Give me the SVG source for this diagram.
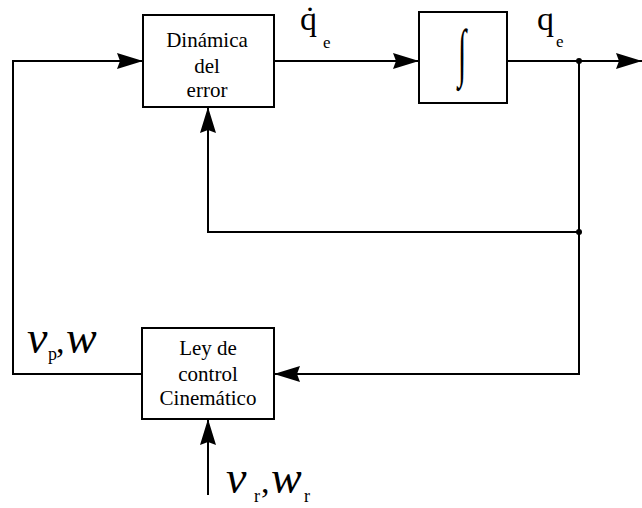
<svg xmlns="http://www.w3.org/2000/svg" width="642" height="508" viewBox="0 0 642 508">
<style>
.box{fill:#fff;stroke:#000;stroke-width:2}
.ln{fill:none;stroke:#000;stroke-width:2}
.t{font-family:"Liberation Serif","Times New Roman",serif;font-size:21px;fill:#000;text-anchor:middle}
.m{font-family:"Liberation Serif","Times New Roman",serif;fill:#000}
.mi{font-family:"Liberation Serif","Times New Roman",serif;font-style:italic;fill:#000}
</style>
<defs>
<marker id="ah" viewBox="0 0 26 16" refX="26" refY="8" markerWidth="26" markerHeight="16" markerUnits="userSpaceOnUse" orient="auto">
<path d="M0,0 L26,8 L0,16 L3,8 Z" fill="#000"/>
</marker>
</defs>
<g id="connectors">
<path class="ln" d="M274,61 H419" marker-end="url(#ah)"/>
<path class="ln" d="M507,61 H642" marker-end="url(#ah)"/>
<path class="ln" d="M579,61 V374 H274" marker-end="url(#ah)"/>
<path class="ln" d="M579,232 H208 V107" marker-end="url(#ah)"/>
<path class="ln" d="M142,374 H13 V61 H143" marker-end="url(#ah)"/>
<path class="ln" d="M208,495 V419" marker-end="url(#ah)"/>
<circle cx="579" cy="61" r="3" fill="#000"/>
<circle cx="579" cy="232" r="3" fill="#000"/>
</g>
<g id="dinamica">
<rect class="box" x="143" y="15" width="131" height="92"/>
<text class="t" x="207" y="47">Dinámica</text>
<text class="t" x="207" y="73">del</text>
<text class="t" x="207" y="97">error</text>
</g>
<g id="integrador">
<rect class="box" x="419" y="12" width="88" height="91"/>
<text class="m" font-size="40" text-anchor="middle" transform="translate(462,74) scale(0.75,1.6)">∫</text>
</g>
<g id="ley">
<rect class="box" x="142" y="328" width="132" height="91"/>
<text class="t" x="208" y="355">Ley de</text>
<text class="t" x="208" y="381">control</text>
<text class="t" x="208" y="405">Cinemático</text>
</g>
<g id="labels">
<text class="m" x="300" y="30" font-size="34">q̇</text>
<text class="m" x="323" y="48" font-size="17">e</text>
<text class="m" x="537" y="30" font-size="34">q</text>
<text class="m" x="556" y="47" font-size="17">e</text>
<text class="mi" x="27" y="353" font-size="46">v</text>
<text class="m" x="48" y="360" font-size="18">p</text>
<text class="m" x="56" y="353" font-size="34">,</text>
<text class="mi" x="66" y="353" font-size="46">w</text>
<text class="mi" x="226" y="493" font-size="46">v</text>
<text class="m" x="254" y="502" font-size="18">r</text>
<text class="m" x="261" y="493" font-size="34">,</text>
<text class="mi" x="271" y="493" font-size="46">w</text>
<text class="m" x="304" y="502" font-size="18">r</text>
</g>
</svg>
